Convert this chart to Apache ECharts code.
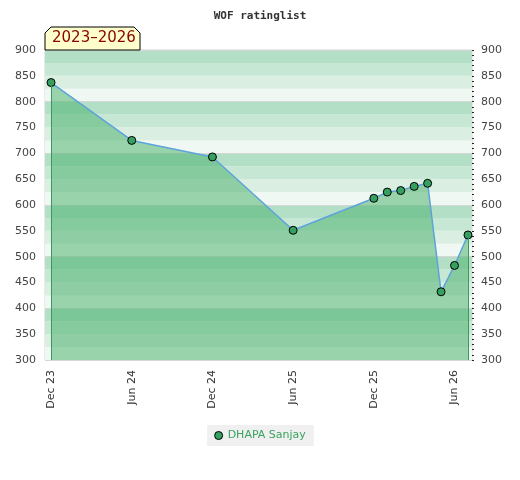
<!DOCTYPE html>
<html>
<head>
<meta charset="utf-8">
<script src="https://cdn.jsdelivr.net/npm/echarts@6/dist/echarts.min.js"></script>
<style>
  html, body { margin: 0; padding: 0; background: #fff; }
  #main { width: 520px; height: 480px; }
</style>
</head>
<body>
<div id="main"></div>
<script>
// rating history
var playerName = 'DHAPA Sanjay';
var dates = ['2023-12', '2024-06', '2024-12', '2025-06', '2025-12', '2026-01', '2026-02', '2026-03', '2026-04', '2026-05', '2026-06', '2026-07'];
var ratings = [837, 725, 693, 551, 613, 625, 628, 636, 642, 432, 483, 542];
var tickDates = ['2023-12', '2024-06', '2024-12', '2025-06', '2025-12', '2026-06'];
var monthNames = ['Jan', 'Feb', 'Mar', 'Apr', 'May', 'Jun', 'Jul', 'Aug', 'Sep', 'Oct', 'Nov', 'Dec'];

// months counted from Dec 23
function monthIndex(s) {
    var p = s.split('-');
    return (parseInt(p[0], 10) - 2023) * 12 + (parseInt(p[1], 10) - 12);
}
function monthLabel(m) {
    var total = 2023 * 12 + 11 + Math.round(m);
    var y = Math.floor(total / 12);
    return monthNames[total % 12] + ' ' + String(y).slice(2);
}

var points = dates.map(function (d, i) { return [monthIndex(d), ratings[i]]; });
var first = points[0];
var last = points[points.length - 1];

var myChart = echarts.init(document.getElementById('main'));

var option = {
    animation: false,
    title: {
        text: 'WOF ratinglist',
        left: 'center',
        top: 6,
        textStyle: { fontFamily: 'DejaVu Sans Mono', fontSize: 11, fontWeight: 'bold', color: '#333' }
    },
    grid: {
        left: 45, right: 48, top: 50, bottom: 120,
        show: true, borderColor: '#d4d4d4', borderWidth: 1, backgroundColor: 'transparent'
    },
    legend: {
        bottom: 34,
        left: 'center',
        backgroundColor: '#f0f0f0',
        padding: [5, 8, 5, 7],
        itemWidth: 8,
        itemHeight: 8,
        itemGap: 10,
        textStyle: { color: '#3aa35f', fontSize: 11, fontFamily: 'DejaVu Sans' },
        data: [{ name: playerName, icon: 'circle', itemStyle: { color: '#35a060', borderColor: '#000', borderWidth: 1 } }]
    },
    xAxis: {
        type: 'value',
        min: -0.45,
        max: 31.3,
        splitLine: { show: false },
        axisLine: { show: false },
        axisTick: { show: false },
        axisLabel: {
            customValues: tickDates.map(monthIndex),
            rotate: 90,
            margin: 10,
            fontSize: 11,
            fontFamily: 'DejaVu Sans',
            color: '#333',
            formatter: function (v) { return monthLabel(v); }
        }
    },
    yAxis: [
        {
            type: 'value', position: 'left', min: 300, max: 900, interval: 25,
            axisLine: { show: false }, axisTick: { show: false },
            splitLine: { show: false },
            splitArea: { show: true, areaStyle: { color: ['#eff8f3', '#daefe2', '#c6e7d4', '#b2dfc5'] } },
            axisLabel: {
                margin: 9, fontSize: 11, fontFamily: 'DejaVu Sans', color: '#444',
                formatter: function (v) { return v % 50 === 0 ? v : ''; }
            }
        },
        {
            type: 'value', position: 'right', min: 300, max: 900, interval: 50,
            axisLine: { show: false },
            axisTick: { show: true, length: 2, inside: false, lineStyle: { color: '#222' } },
            minorTick: { show: true, splitNumber: 5, length: 2, lineStyle: { color: '#222' } },
            splitLine: { show: false },
            axisLabel: { margin: 9, fontSize: 11, fontFamily: 'DejaVu Sans', color: '#444' }
        },
        {
            type: 'value', position: 'right', min: 300, max: 900, interval: 100,
            axisLine: { show: false }, axisTick: { show: false }, axisLabel: { show: false },
            splitLine: { show: true, lineStyle: { color: '#d6d6d6', width: 1 } }
        }
    ],
    series: [
        {
            name: playerName,
            type: 'line',
            yAxisIndex: 0,
            data: points,
            symbol: 'circle',
            symbolSize: 8,
            itemStyle: { color: '#35a060', borderColor: '#000', borderWidth: 1 },
            lineStyle: { color: '#5ea3dc', width: 1.5 },
            areaStyle: { color: 'rgba(76,177,109,0.53)', opacity: 1, origin: 'start' },
            markLine: {
                silent: true,
                symbol: ['none', 'none'],
                label: { show: false },
                lineStyle: { color: '#3a9a5a', type: 'solid', width: 1 },
                data: [
                    [{ coord: [first[0], 300] }, { coord: [first[0], first[1]] }],
                    [{ coord: [last[0], 300] }, { coord: [last[0], last[1]] }]
                ]
            }
        }
    ],
    graphic: [
        {
            type: 'polygon',
            shape: { points: [[45, 50], [45, 33], [51, 27], [134, 27], [140, 33], [140, 50]] },
            style: { fill: '#ffffcc', stroke: '#000', lineWidth: 1 },
            z: 10
        },
        {
            type: 'text',
            left: 52,
            top: 31,
            style: { text: '2023\u20132026', fill: '#8b0000', font: '15px "DejaVu Sans"' },
            z: 11
        }
    ]
};

myChart.setOption(option);
</script>
</body>
</html>
